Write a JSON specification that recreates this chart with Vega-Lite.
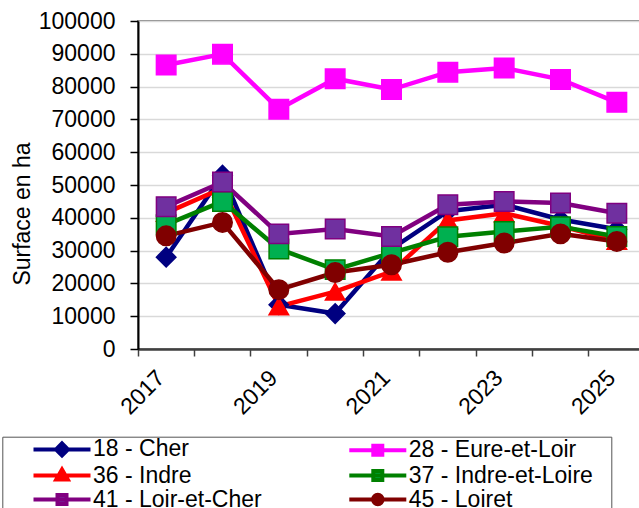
{
  "$schema": "https://vega.github.io/schema/vega-lite/v6.json",
  "width": 507,
  "height": 328,
  "autosize": {"type": "none"},
  "padding": {"left": 138, "top": 21, "right": 0, "bottom": 160},
  "background": "white",
  "config": {
    "font": "Liberation Sans",
    "view": {"stroke": "#868686", "strokeWidth": 2}
  },
  "data": {
    "values": [
      {"year": "2017", "dept": "18 - Cher", "value": 28000},
      {"year": "2018", "dept": "18 - Cher", "value": 53000},
      {"year": "2019", "dept": "18 - Cher", "value": 13500},
      {"year": "2020", "dept": "18 - Cher", "value": 10800},
      {"year": "2021", "dept": "18 - Cher", "value": 30500},
      {"year": "2022", "dept": "18 - Cher", "value": 42000},
      {"year": "2023", "dept": "18 - Cher", "value": 44000},
      {"year": "2024", "dept": "18 - Cher", "value": 39500},
      {"year": "2025", "dept": "18 - Cher", "value": 36500},
      {"year": "2017", "dept": "28 - Eure-et-Loir", "value": 86600},
      {"year": "2018", "dept": "28 - Eure-et-Loir", "value": 89900},
      {"year": "2019", "dept": "28 - Eure-et-Loir", "value": 73100},
      {"year": "2020", "dept": "28 - Eure-et-Loir", "value": 82400},
      {"year": "2021", "dept": "28 - Eure-et-Loir", "value": 79100},
      {"year": "2022", "dept": "28 - Eure-et-Loir", "value": 84400},
      {"year": "2023", "dept": "28 - Eure-et-Loir", "value": 85700},
      {"year": "2024", "dept": "28 - Eure-et-Loir", "value": 82200},
      {"year": "2025", "dept": "28 - Eure-et-Loir", "value": 75200},
      {"year": "2017", "dept": "36 - Indre", "value": 41500},
      {"year": "2018", "dept": "36 - Indre", "value": 49000},
      {"year": "2019", "dept": "36 - Indre", "value": 13000},
      {"year": "2020", "dept": "36 - Indre", "value": 17500},
      {"year": "2021", "dept": "36 - Indre", "value": 23600},
      {"year": "2022", "dept": "36 - Indre", "value": 39200},
      {"year": "2023", "dept": "36 - Indre", "value": 41400},
      {"year": "2024", "dept": "36 - Indre", "value": 37500},
      {"year": "2025", "dept": "36 - Indre", "value": 33000},
      {"year": "2017", "dept": "37 - Indre-et-Loire", "value": 37900},
      {"year": "2018", "dept": "37 - Indre-et-Loire", "value": 45000},
      {"year": "2019", "dept": "37 - Indre-et-Loire", "value": 30500},
      {"year": "2020", "dept": "37 - Indre-et-Loire", "value": 24200},
      {"year": "2021", "dept": "37 - Indre-et-Loire", "value": 29300},
      {"year": "2022", "dept": "37 - Indre-et-Loire", "value": 34200},
      {"year": "2023", "dept": "37 - Indre-et-Loire", "value": 35800},
      {"year": "2024", "dept": "37 - Indre-et-Loire", "value": 37300},
      {"year": "2025", "dept": "37 - Indre-et-Loire", "value": 34300},
      {"year": "2017", "dept": "41 - Loir-et-Cher", "value": 43400},
      {"year": "2018", "dept": "41 - Loir-et-Cher", "value": 50900},
      {"year": "2019", "dept": "41 - Loir-et-Cher", "value": 35100},
      {"year": "2020", "dept": "41 - Loir-et-Cher", "value": 36600},
      {"year": "2021", "dept": "41 - Loir-et-Cher", "value": 34300},
      {"year": "2022", "dept": "41 - Loir-et-Cher", "value": 44000},
      {"year": "2023", "dept": "41 - Loir-et-Cher", "value": 45000},
      {"year": "2024", "dept": "41 - Loir-et-Cher", "value": 44500},
      {"year": "2025", "dept": "41 - Loir-et-Cher", "value": 41400},
      {"year": "2017", "dept": "45 - Loiret", "value": 34500},
      {"year": "2018", "dept": "45 - Loiret", "value": 38600},
      {"year": "2019", "dept": "45 - Loiret", "value": 18100},
      {"year": "2020", "dept": "45 - Loiret", "value": 23300},
      {"year": "2021", "dept": "45 - Loiret", "value": 25700},
      {"year": "2022", "dept": "45 - Loiret", "value": 29500},
      {"year": "2023", "dept": "45 - Loiret", "value": 32300},
      {"year": "2024", "dept": "45 - Loiret", "value": 35100},
      {"year": "2025", "dept": "45 - Loiret", "value": 32800}
    ]
  },
  "encoding": {
    "y": {
      "field": "value",
      "type": "quantitative",
      "scale": {"domain": [0, 100000], "nice": false, "zero": true},
      "axis": {
        "values": [0, 10000, 20000, 30000, 40000, 50000, 60000, 70000, 80000, 90000, 100000],
        "format": "d",
        "title": "Surface en ha",
        "titleFont": "Liberation Sans",
        "titleFontSize": 23,
        "titleFontWeight": "normal",
        "titleColor": "black",
        "titleAngle": -90,
        "titleX": -115.5,
        "titleY": 192.5,
        "titleAlign": "center",
        "titleBaseline": "middle",
        "labelFont": "Liberation Sans",
        "labelFontSize": 23,
        "labelColor": "black",
        "labelPadding": 15,
        "tickSize": 8,
        "tickColor": "black",
        "tickWidth": 1.5,
        "domainColor": "black",
        "domainWidth": 2,
        "gridColor": "#d9d9d9",
        "gridWidth": 1.5
      }
    }
  },
  "layer": [
    {
      "mark": {"type": "line", "strokeWidth": 4.5},
      "encoding": {
        "x": {
          "field": "year",
          "type": "ordinal",
          "scale": {"type": "band", "paddingInner": 0, "paddingOuter": 0},
          "axis": {
            "orient": "bottom",
            "title": null,
            "labels": false,
            "bandPosition": 0,
            "ticks": true,
            "tickSize": 7,
            "tickColor": "#404040",
            "tickWidth": 1.5,
            "domainColor": "#404040",
            "domainWidth": 2.5,
            "grid": false
          }
        },
        "color": {
          "field": "dept",
          "type": "nominal",
          "scale": {
            "domain": ["18 - Cher", "28 - Eure-et-Loir", "36 - Indre", "37 - Indre-et-Loire", "41 - Loir-et-Cher", "45 - Loiret"],
            "range": ["#000080", "#ff00ff", "#ff0000", "#008000", "#800080", "#800000"]
          },
          "legend": null
        }
      }
    },
    {
      "mark": {"type": "point", "filled": true, "size": 380, "strokeWidth": 1.5, "opacity": 1},
      "encoding": {
        "x": {
          "field": "year",
          "type": "ordinal",
          "scale": {"type": "band", "paddingInner": 0, "paddingOuter": 0},
          "axis": {
            "orient": "bottom",
            "title": null,
            "values": ["2017", "2019", "2021", "2023", "2025"],
            "bandPosition": 0.5,
            "ticks": false,
            "domain": false,
            "grid": false,
            "labelAngle": -45,
            "labelAlign": "right",
            "labelBaseline": "alphabetic",
            "labelPadding": 30,
            "labelFont": "Liberation Sans",
            "labelFontSize": 23,
            "labelColor": "black",
            "labelOverlap": false,
            "labelFlush": false
          }
        },
        "shape": {
          "field": "dept",
          "type": "nominal",
          "scale": {
            "domain": ["18 - Cher", "28 - Eure-et-Loir", "36 - Indre", "37 - Indre-et-Loire", "41 - Loir-et-Cher", "45 - Loiret"],
            "range": ["diamond", "square", "triangle-up", "square", "square", "circle"]
          },
          "legend": null
        },
        "fill": {
          "field": "dept",
          "type": "nominal",
          "scale": {
            "domain": ["18 - Cher", "28 - Eure-et-Loir", "36 - Indre", "37 - Indre-et-Loire", "41 - Loir-et-Cher", "45 - Loiret"],
            "range": ["#000080", "#ff00ff", "#ff0000", "#00b050", "#7030a0", "#800000"]
          },
          "legend": null
        },
        "stroke": {
          "field": "dept",
          "type": "nominal",
          "scale": {
            "domain": ["18 - Cher", "28 - Eure-et-Loir", "36 - Indre", "37 - Indre-et-Loire", "41 - Loir-et-Cher", "45 - Loiret"],
            "range": ["#000080", "#ff00ff", "#ff0000", "#008000", "#800080", "#800000"]
          },
          "legend": null
        }
      }
    },
    {
      "mark": {"type": "point", "filled": true, "size": 100, "strokeWidth": 4, "opacity": 0},
      "encoding": {
        "x": {
          "field": "year",
          "type": "ordinal",
          "scale": {"type": "band", "paddingInner": 0, "paddingOuter": 0},
          "axis": null
        },
        "shape": {
          "field": "dept",
          "type": "nominal",
          "scale": {
            "domain": ["18 - Cher", "28 - Eure-et-Loir", "36 - Indre", "37 - Indre-et-Loire", "41 - Loir-et-Cher", "45 - Loiret"],
            "range": [
              "M-5.7,0H5.7M0,-1.2L1.2,0L0,1.2L-1.2,0Z",
              "M-5.7,0H5.7M-0.9,-0.9H0.9V0.9H-0.9Z",
              "M-5.7,0H5.7M0,-1.2L1.15,0.8H-1.15Z",
              "M-5.7,0H5.7M-0.9,-0.9H0.9V0.9H-0.9Z",
              "M-5.7,0H5.7M-0.9,-0.9H0.9V0.9H-0.9Z",
              "M-5.7,0H5.7M-0.95,0A0.95,0.95,0,1,0,0.95,0A0.95,0.95,0,1,0,-0.95,0Z"
            ]
          },
          "legend": {
            "orient": "none",
            "direction": "horizontal",
            "legendX": -135.7,
            "legendY": 415.7,
            "columns": 2,
            "padding": 1,
            "title": " ",
            "titleOrient": "right",
            "titlePadding": 17,
            "titleFontSize": 10,
            "strokeColor": "#555555",
            "labelFont": "Liberation Sans",
            "labelFontSize": 23,
            "labelColor": "black",
            "labelLimit": 400,
            "symbolSize": 100,
            "symbolStrokeWidth": 4,
            "symbolOpacity": 1,
            "symbolOffset": 47.2,
            "labelOffset": 19.5,
            "columnPadding": 56.8,
            "rowPadding": -2.6
          }
        },
        "fill": {
          "field": "dept",
          "type": "nominal",
          "scale": {
            "domain": ["18 - Cher", "28 - Eure-et-Loir", "36 - Indre", "37 - Indre-et-Loire", "41 - Loir-et-Cher", "45 - Loiret"],
            "range": ["#000080", "#ff00ff", "#ff0000", "#00b050", "#7030a0", "#800000"]
          }
        },
        "stroke": {
          "field": "dept",
          "type": "nominal",
          "scale": {
            "domain": ["18 - Cher", "28 - Eure-et-Loir", "36 - Indre", "37 - Indre-et-Loire", "41 - Loir-et-Cher", "45 - Loiret"],
            "range": ["#000080", "#ff00ff", "#ff0000", "#008000", "#800080", "#800000"]
          }
        }
      }
    }
  ],
  "resolve": {
    "axis": {"x": "independent"},
    "scale": {"shape": "independent", "fill": "independent", "stroke": "independent"}
  }
}
